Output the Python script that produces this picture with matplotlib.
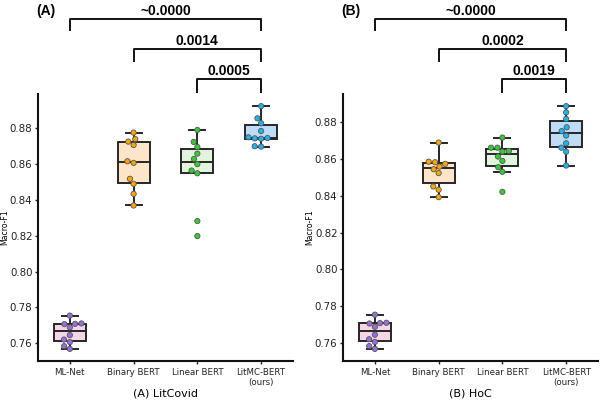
import matplotlib
matplotlib.use('Agg')
import matplotlib.pyplot as plt
import seaborn as sns
import pandas as pd

categories = ['ML-Net', 'Binary BERT', 'Linear BERT', 'LitMC-BERT\n(ours)']

# (A) LitCovid
lc_mlnet = [0.7754, 0.7708, 0.7706, 0.7710, 0.7688, 0.7645, 0.7620, 0.7606, 0.7583, 0.7568]
lc_binary = [0.8776, 0.8740, 0.8726, 0.8707, 0.8616, 0.8607, 0.8518, 0.8490, 0.8434, 0.8369]
lc_linear = [0.8791, 0.8724, 0.8696, 0.8659, 0.8629, 0.8600, 0.8564, 0.8549, 0.8282, 0.8198]
lc_litmc = [0.8924, 0.8856, 0.8828, 0.8785, 0.8750, 0.8746, 0.8744, 0.8742, 0.8700, 0.8698]

# (B) HoC
hoc_mlnet = [0.7754, 0.7708, 0.7706, 0.7710, 0.7688, 0.7645, 0.7620, 0.7606, 0.7583, 0.7568]
hoc_binary = [0.8690, 0.8586, 0.8583, 0.8574, 0.8559, 0.8545, 0.8524, 0.8451, 0.8433, 0.8393]
hoc_linear = [0.8717, 0.8662, 0.8662, 0.8644, 0.8641, 0.8614, 0.8590, 0.8556, 0.8531, 0.8422]
hoc_litmc = [0.8888, 0.8854, 0.8818, 0.8773, 0.8752, 0.8728, 0.8686, 0.8662, 0.8640, 0.8565]

pairs = [(0, 3), (1, 3), (2, 3)]
lc_pvals = ['~0.0000', '0.0014', '0.0005']
hoc_pvals = ['~0.0000', '0.0002', '0.0019']

panel_titles = ['(A)', '(B)']
xlabels = ['(A) LitCovid', '(B) HoC']

box_colors = ['#f5d6e6', '#fce5c8', '#e1f4dd', '#bfdcf6']
point_colors = ['#9370DB', '#FFA500', '#32CD32', '#1CB5EC']

fig = plt.figure(figsize=(6, 4), dpi=100)

def make_df(series):
    rows = []
    for cat, vals in zip(categories, series):
        for v in vals:
            rows.append((cat, v))
    return pd.DataFrame(rows, columns=['model', 'f1'])

panels = [
    ([lc_mlnet, lc_binary, lc_linear, lc_litmc], lc_pvals, 0.0633),
    ([hoc_mlnet, hoc_binary, hoc_linear, hoc_litmc], hoc_pvals, 0.5717),
]

bracket_y = [1.281, 1.167, 1.056]
leg_y = [1.236, 1.120, 1.004]
edge = '#262626'

for i, (series, pvals, left) in enumerate(panels):
    ax = fig.add_axes([left, 0.0975, 0.425, 0.6675])
    df = make_df(series)
    sns.boxplot(data=df, x='model', y='f1', hue='model', palette=box_colors,
                order=categories, width=0.5, showfliers=False, linewidth=1.4,
                saturation=1,
                boxprops=dict(edgecolor=edge), whiskerprops=dict(color=edge),
                capprops=dict(color=edge), medianprops=dict(color=edge),
                legend=False, ax=ax)
    sns.swarmplot(data=df, x='model', y='f1', hue='model', palette=point_colors,
                  order=categories, size=3.8, edgecolor='#555555', linewidth=0.6,
                  legend=False, ax=ax)
    ax.set_xlim(-0.5, 3.5)
    ax.margins(y=0.05)
    ax.autoscale(axis='y')
    ax.set_yticks([0.76, 0.78, 0.80, 0.82, 0.84, 0.86, 0.88])
    ax.set_yticklabels(['0.76', '0.78', '0.80', '0.82', '0.84', '0.86', '0.88'])
    ax.tick_params(axis='y', labelsize=7.4, length=2.2, pad=1.8, width=1, colors='#222222')
    ax.tick_params(axis='x', labelsize=6.2, length=2.2, pad=2.5, width=1, colors='#222222')
    ax.set_ylabel('Macro-F1', fontsize=5.6)
    ax.yaxis.set_label_coords(-0.112, 0.5)
    ax.set_xlabel(xlabels[i], fontsize=8, labelpad=1)
    for s in ['top', 'right']:
        ax.spines[s].set_visible(False)
    for s in ['left', 'bottom']:
        ax.spines[s].set_linewidth(1.5)
        ax.spines[s].set_color('#111111')

    tr = ax.get_xaxis_transform()
    for (a, b), p, yb, yl in zip(pairs, pvals, bracket_y, leg_y):
        ax.plot([a, a, b, b], [yl, yb, yb, yl], transform=tr, color='#111111',
                lw=1.4, clip_on=False, solid_capstyle='butt')
        ax.text((a + b) / 2, yb + 0.004, p, transform=tr, ha='center', va='bottom',
                fontsize=10, fontweight='bold', family='Liberation Sans')

    fig.text(left - 0.003, 1 - 11 / 400, panel_titles[i], ha='left', va='center',
             fontsize=10, fontweight='bold', family='Liberation Sans')

fig.savefig('out.png', dpi=100)
